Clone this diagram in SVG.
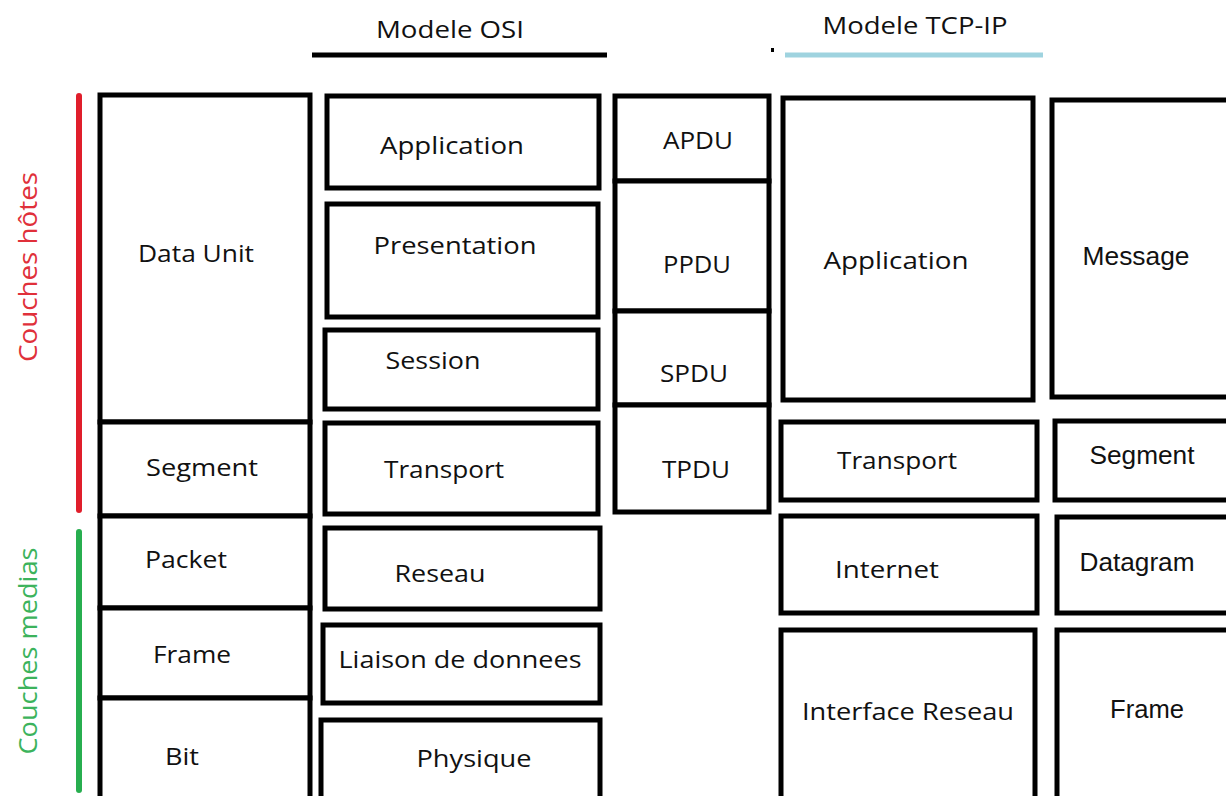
<svg xmlns="http://www.w3.org/2000/svg" width="1226" height="796" viewBox="0 0 1226 796">
<style>
.b{fill:#fff;stroke:#000;stroke-width:5}
.t{font-family:"Open Sans","Noto Sans",sans-serif;font-size:24px;fill:#111;text-anchor:middle}
.a{font-family:"Liberation Sans",Arial,sans-serif;font-size:25px;fill:#111;text-anchor:middle}
</style>
<rect width="1226" height="796" fill="#fff"/>
<g id="headers">
<text class="t" x="450" y="38" textLength="148" lengthAdjust="spacingAndGlyphs">Modele OSI</text>
<line x1="312" y1="55" x2="607" y2="55" stroke="#000" stroke-width="5"/>
<text class="t" x="915" y="34" textLength="185" lengthAdjust="spacingAndGlyphs">Modele TCP-IP</text>
<rect x="771" y="48" width="3" height="4" fill="#000"/>
<line x1="785" y1="55" x2="1043" y2="55" stroke="#9fd3df" stroke-width="5"/>
</g>
<g id="side">
<line x1="79" y1="96" x2="79" y2="510" stroke="#e01e2b" stroke-width="6" stroke-linecap="round"/>
<line x1="79" y1="532" x2="79" y2="790" stroke="#27ae4f" stroke-width="6" stroke-linecap="round"/>
<text class="t" transform="translate(37,267) rotate(-90)" style="fill:#e0303a;font-size:25px" textLength="190" lengthAdjust="spacingAndGlyphs">Couches hôtes</text>
<text class="t" transform="translate(37,651) rotate(-90)" style="fill:#3cb35c;font-size:25px" textLength="207" lengthAdjust="spacingAndGlyphs">Couches medias</text>
</g>
<g id="dataunits">
<g id="du-data"><rect class="b" x="100" y="95" width="210" height="327"/><text class="t" x="196" y="262" textLength="116" lengthAdjust="spacingAndGlyphs">Data Unit</text></g>
<g id="du-segment"><rect class="b" x="100" y="422" width="210" height="94"/><text class="t" x="202" y="476" textLength="112" lengthAdjust="spacingAndGlyphs">Segment</text></g>
<g id="du-packet"><rect class="b" x="100" y="516" width="210" height="92"/><text class="t" x="186" y="568" textLength="82" lengthAdjust="spacingAndGlyphs">Packet</text></g>
<g id="du-frame"><rect class="b" x="100" y="608" width="210" height="90"/><text class="t" x="192" y="663" textLength="78" lengthAdjust="spacingAndGlyphs">Frame</text></g>
<g id="du-bit"><rect class="b" x="100" y="698" width="210" height="104"/><text class="t" x="182" y="765" textLength="34" lengthAdjust="spacingAndGlyphs">Bit</text></g>
</g>
<g id="osi">
<g id="osi-app"><rect class="b" x="327" y="96" width="272" height="92"/><text class="t" x="452" y="154" textLength="144" lengthAdjust="spacingAndGlyphs">Application</text></g>
<g id="osi-pres"><rect class="b" x="327" y="204" width="271" height="113"/><text class="t" x="455" y="254" textLength="163" lengthAdjust="spacingAndGlyphs">Presentation</text></g>
<g id="osi-sess"><rect class="b" x="325" y="330" width="273" height="79"/><text class="t" x="433" y="369" textLength="95" lengthAdjust="spacingAndGlyphs">Session</text></g>
<g id="osi-trans"><rect class="b" x="325" y="423" width="273" height="91"/><text class="t" x="444" y="478" textLength="120" lengthAdjust="spacingAndGlyphs">Transport</text></g>
<g id="osi-res"><rect class="b" x="325" y="528" width="275" height="81"/><text class="t" x="440" y="582" textLength="91" lengthAdjust="spacingAndGlyphs">Reseau</text></g>
<g id="osi-liai"><rect class="b" x="323" y="625" width="277" height="78"/><text class="t" x="460" y="668" textLength="243" lengthAdjust="spacingAndGlyphs">Liaison de donnees</text></g>
<g id="osi-phys"><rect class="b" x="321" y="720" width="279" height="82"/><text class="t" x="474" y="767" textLength="115" lengthAdjust="spacingAndGlyphs">Physique</text></g>
</g>
<g id="pdu">
<g id="pdu-a"><rect class="b" x="615" y="96" width="154" height="85"/><text class="t" x="698" y="149" textLength="70" lengthAdjust="spacingAndGlyphs">APDU</text></g>
<g id="pdu-p"><rect class="b" x="615" y="181" width="154" height="130"/><text class="t" x="697" y="273" textLength="68" lengthAdjust="spacingAndGlyphs">PPDU</text></g>
<g id="pdu-s"><rect class="b" x="615" y="311" width="154" height="94"/><text class="t" x="694" y="382" textLength="68" lengthAdjust="spacingAndGlyphs">SPDU</text></g>
<g id="pdu-t"><rect class="b" x="615" y="405" width="154" height="107"/><text class="t" x="696" y="478" textLength="68" lengthAdjust="spacingAndGlyphs">TPDU</text></g>
</g>
<g id="tcpip">
<g id="tcp-app"><rect class="b" x="783" y="98" width="250" height="302"/><text class="t" x="896" y="269" textLength="145" lengthAdjust="spacingAndGlyphs">Application</text></g>
<g id="tcp-trans"><rect class="b" x="781" y="422" width="256" height="78"/><text class="t" x="897" y="469" textLength="120" lengthAdjust="spacingAndGlyphs">Transport</text></g>
<g id="tcp-int"><rect class="b" x="781" y="516" width="256" height="97"/><text class="t" x="887" y="578" textLength="104" lengthAdjust="spacingAndGlyphs">Internet</text></g>
<g id="tcp-if"><rect class="b" x="781" y="630" width="254" height="172"/><text class="t" x="908" y="720" textLength="212" lengthAdjust="spacingAndGlyphs">Interface Reseau</text></g>
</g>
<g id="tcpunits">
<g id="tu-msg"><rect class="b" x="1052" y="100" width="180" height="297"/><text class="a" x="1136" y="265" textLength="107" lengthAdjust="spacingAndGlyphs">Message</text></g>
<g id="tu-seg"><rect class="b" x="1055" y="421" width="177" height="79"/><text class="a" x="1142" y="464" textLength="105" lengthAdjust="spacingAndGlyphs">Segment</text></g>
<g id="tu-dg"><rect class="b" x="1057" y="517" width="175" height="96"/><text class="a" x="1137" y="571" textLength="115" lengthAdjust="spacingAndGlyphs">Datagram</text></g>
<g id="tu-fr"><rect class="b" x="1057" y="630" width="175" height="172"/><text class="a" x="1147" y="718" textLength="74" lengthAdjust="spacingAndGlyphs">Frame</text></g>
</g>
</svg>
